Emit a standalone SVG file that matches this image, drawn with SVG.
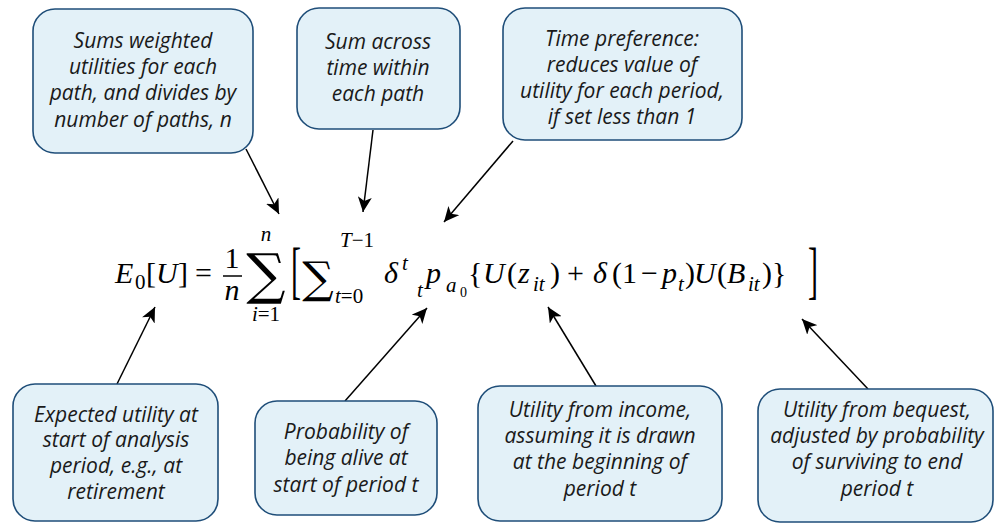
<svg xmlns="http://www.w3.org/2000/svg" width="1000" height="523" viewBox="0 0 1000 523">
<style>
.box{fill:#E3F1F8;stroke:#1F4E79;stroke-width:1.6}
.lbl{font-family:"Open Sans",Lato,sans-serif;font-style:italic;font-weight:400;font-size:21px;fill:#1a1a1a;text-anchor:middle}
.conn{stroke:#000;stroke-width:1.5;fill:none;marker-end:url(#ah)}
.m{font-family:"Liberation Serif","DejaVu Serif",serif;fill:#000}
.s{font-family:"DejaVu Serif","Liberation Serif",serif;fill:#000}
.i{font-style:italic}
.big{font-size:30px}
.sm{font-size:21px}
.xs{font-size:14px}
</style>
<defs>
<marker id="ah" markerUnits="userSpaceOnUse" markerWidth="16" markerHeight="14" viewBox="0 0 16 14" refX="15" refY="7" orient="auto">
<path d="M0,0 L15,7 L0,14 L4,7 z" fill="#000"/>
</marker>
</defs>
<rect width="1000" height="523" fill="#fff"/>

<g id="connectors">
<line class="conn" x1="246" y1="149" x2="279" y2="214"/>
<line class="conn" x1="373" y1="130" x2="363" y2="212"/>
<line class="conn" x1="513" y1="141" x2="444" y2="222"/>
<line class="conn" x1="117" y1="384" x2="155" y2="307"/>
<line class="conn" x1="345" y1="401" x2="427" y2="308"/>
<line class="conn" x1="596" y1="386" x2="548" y2="307"/>
<line class="conn" x1="868" y1="389" x2="802" y2="319"/>
</g>

<g id="formula">
<text class="m big i" x="115" y="283">E</text>
<text class="m sm" x="135" y="289">0</text>
<text class="m big" x="146" y="283">[</text>
<text class="m big i" x="156" y="283">U</text>
<text class="m big" x="178" y="283">]</text>
<text class="m big" x="195" y="283">=</text>
<text class="m big" x="232" y="268" text-anchor="middle">1</text>
<line x1="223" y1="276" x2="242" y2="276" stroke="#000" stroke-width="1.5"/>
<text class="m big i" x="232" y="300" text-anchor="middle">n</text>
<text class="s" font-size="55" x="266" y="293" text-anchor="middle">∑</text>
<text class="m sm i" x="266" y="241" text-anchor="middle">n</text>
<text class="m sm" x="266" y="321" text-anchor="middle"><tspan class="i">i</tspan>=1</text>
<text class="m" font-size="30" x="291" y="283.4" transform="translate(0 276.5) scale(1 2.1) translate(0 -276.5)">[</text>
<text class="s" font-size="44" x="318" y="293" text-anchor="middle">∑</text>
<text class="m sm" x="340" y="247"><tspan class="i">T</tspan>−1</text>
<text class="m sm" x="335" y="303"><tspan class="i">t</tspan>=0</text>
<text class="m big i" x="384" y="283">δ</text>
<text class="m sm i" x="402" y="270">t</text>
<text class="m sm i" x="417" y="297">t</text>
<text class="m big i" x="426" y="283">p</text>
<text class="m sm i" x="446" y="292">a</text>
<text class="m xs" x="460" y="297">0</text>
<text class="m big" x="468" y="283">{</text>
<text class="m big i" x="483" y="283">U</text>
<text class="m big" x="507" y="283">(</text>
<text class="m big i" x="518" y="283">z</text>
<text class="m sm i" x="533" y="291">it</text>
<text class="m big" x="550" y="283">)</text>
<text class="m big" x="567" y="283">+</text>
<text class="m big i" x="593" y="283">δ</text>
<text class="m big" x="612" y="283">(</text>
<text class="m big" x="622" y="283">1</text>
<text class="m big" x="641" y="283">−</text>
<text class="m big i" x="662" y="283">p</text>
<text class="m sm i" x="678" y="291">t</text>
<text class="m big" x="685" y="283">)</text>
<text class="m big i" x="694" y="283">U</text>
<text class="m big" x="717" y="283">(</text>
<text class="m big i" x="727" y="283">B</text>
<text class="m sm i" x="748" y="291">it</text>
<text class="m big" x="762" y="283">)</text>
<text class="m big" x="772" y="283">}</text>
<text class="m" font-size="30" x="808" y="283.4" transform="translate(0 276.5) scale(1 2.1) translate(0 -276.5)">]</text>
</g>

<g id="n1">
<rect class="box" x="33" y="9" width="220" height="144" rx="22"/>
<text class="lbl" x="143" y="48">Sums weighted</text>
<text class="lbl" x="143" y="74">utilities for each</text>
<text class="lbl" x="143" y="100">path, and divides by</text>
<text class="lbl" x="143" y="127">number of paths, n</text>
</g>
<g id="n2">
<rect class="box" x="297" y="8" width="163" height="121" rx="22"/>
<text class="lbl" x="378" y="49">Sum across</text>
<text class="lbl" x="378" y="75">time within</text>
<text class="lbl" x="378" y="101">each path</text>
</g>
<g id="n3">
<rect class="box" x="503" y="8" width="239" height="132" rx="22"/>
<text class="lbl" x="622" y="46">Time preference:</text>
<text class="lbl" x="622" y="72">reduces value of</text>
<text class="lbl" x="622" y="98">utility for each period,</text>
<text class="lbl" x="622" y="124">if set less than 1</text>
</g>
<g id="n4">
<rect class="box" x="13" y="384" width="205" height="137" rx="22"/>
<text class="lbl" x="116" y="422">Expected utility at</text>
<text class="lbl" x="116" y="447">start of analysis</text>
<text class="lbl" x="116" y="473">period, e.g., at</text>
<text class="lbl" x="116" y="499">retirement</text>
</g>
<g id="n5">
<rect class="box" x="255" y="401" width="182" height="114" rx="22"/>
<text class="lbl" x="346" y="439">Probability of</text>
<text class="lbl" x="346" y="465">being alive at</text>
<text class="lbl" x="346" y="492">start of period t</text>
</g>
<g id="n6">
<rect class="box" x="478" y="386" width="244" height="135" rx="22"/>
<text class="lbl" x="600" y="417">Utility from income,</text>
<text class="lbl" x="600" y="443">assuming it is drawn</text>
<text class="lbl" x="600" y="469">at the beginning of</text>
<text class="lbl" x="600" y="496">period t</text>
</g>
<g id="n7">
<rect class="box" x="758" y="389" width="235" height="133" rx="22"/>
<text class="lbl" x="877" y="417">Utility from bequest,</text>
<text class="lbl" x="877" y="443">adjusted by probability</text>
<text class="lbl" x="877" y="469">of surviving to end</text>
<text class="lbl" x="877" y="496">period t</text>
</g>
</svg>
